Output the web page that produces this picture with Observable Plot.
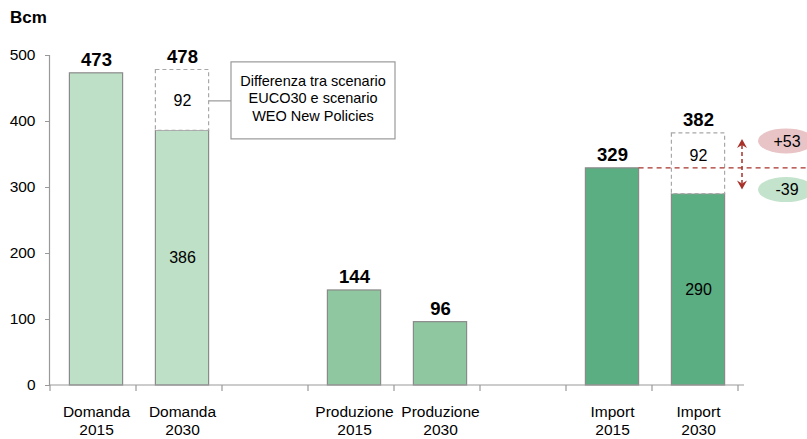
<!DOCTYPE html>
<html><head><meta charset="utf-8">
<script src="https://cdn.jsdelivr.net/npm/d3@7"></script>
<script src="https://cdn.jsdelivr.net/npm/@observablehq/plot@0.6"></script>
<style>
body{margin:0;background:#fff;font-family:"Liberation Sans",Arial,sans-serif;}
#wrap{position:relative;width:807px;height:439px;overflow:hidden}
#unit{position:absolute;left:10px;top:8px;font-weight:bold;font-size:17px;color:#000}
#wrap svg{position:absolute;left:0;top:0}
</style></head>
<body><div id="wrap"><div id="unit">Bcm</div></div>
<script>
// ---- data ----
const categories = ["Domanda 2015","Domanda 2030","gap1","Produzione 2015","Produzione 2030","gap2","Import 2015","Import 2030"];
const tickLabels = ["Domanda\n2015","Domanda\n2030","","Produzione\n2015","Produzione\n2030","","Import\n2015","Import\n2030"];
const barCats = ["Domanda 2015","Domanda 2030","Produzione 2015","Produzione 2030","Import 2015","Import 2030"];
const barValues = [473,386,144,96,329,290];
const barColors = ["#bde0c6","#bde0c6","#8fc8a0","#8fc8a0","#5aae82","#5aae82"];
const totalValues = [473,478,144,96,329,382];
const gapCats = ["Domanda 2030","Import 2030"];
const gapValues = [92,92];
const innerLabelCats = ["Domanda 2030","Import 2030"];
const innerLabelValues = [386,290];
const yTicks = [0,100,200,300,400,500];
const refValue = 329;
const deltaLabels = ["+53","-39"];
const annotationText = ["Differenza tra scenario","EUCO30 e scenario","WEO New Policies"];

// ---- tables ----
const bars = barCats.map((c,i)=>({cat:c, value:barValues[i], color:barColors[i], total:totalValues[i]}));
const gaps = gapCats.map((c,i)=>{const base = barValues[barCats.indexOf(c)]; return {cat:c, lo:base, hi:base+gapValues[i], v:gapValues[i]};});
const inner = innerLabelCats.map((c,i)=>({cat:c, v:innerLabelValues[i]}));

const font = '"Liberation Sans",Arial,sans-serif';
const inset = 16.4;

const chart = Plot.plot({
  width:807, height:439,
  marginLeft:50, marginRight:63, marginTop:55, marginBottom:54,
  style:{fontFamily:font, fontSize:"16px", color:"#000", background:"transparent", overflow:"visible"},
  x:{domain:categories, padding:0, axis:null},
  y:{domain:[0,500], axis:null},
  color:{type:"identity"},
  marks:[
    Plot.barY(bars,{x:"cat", y:"value", fill:"color", stroke:"#8a8a8a", strokeWidth:1.2, insetLeft:inset, insetRight:inset}),
    Plot.barY(gaps,{x:"cat", y1:"lo", y2:"hi", fill:"white", stroke:"#a8a8a8", strokeWidth:1.2, strokeDasharray:"4,3", insetLeft:inset, insetRight:inset}),
    Plot.text(gaps,{x:"cat", y:d=>(d.lo+d.hi)/2 + (d.cat==="Import 2030" ? 12 : 0), text:d=>String(d.v), fontSize:16}),
    Plot.text(inner,{x:"cat", y:d=>d.v/2, text:d=>String(d.v), fontSize:16}),
    Plot.text(bars,{x:"cat", y:"total", text:d=>String(d.total), dy:-13, fontSize:18.5, fontWeight:"bold"}),
    Plot.axisY({ticks:yTicks, tickSize:5, tickPadding:10, fontSize:15.5, label:null, stroke:"#999"}),
    Plot.axisX({tickSize:0, tickPadding:19, fontSize:15.5, lineHeight:1.16, label:null,
      tickFormat:d=>tickLabels[categories.indexOf(d)]})
  ]
});

document.getElementById("wrap").appendChild(chart);

// ---- annotations drawn from the plot's own scales ----
const xs = chart.scale("x"), ys = chart.scale("y");
const bw = xs.bandwidth;
const x0 = xs.range[0], x1 = xs.range[1];
const cx = c => xs.apply(c) + bw/2;
const y = v => ys.apply(v);
const svg = d3.select(chart);
const g = svg.append("g");

// axis lines
g.append("line").attr("x1",x0-0.5).attr("x2",x0-0.5).attr("y1",y(0)).attr("y2",y(500)).attr("stroke","#999").attr("stroke-width",1.2);
g.append("line").attr("x1",x0-0.5).attr("x2",x1).attr("y1",y(0)).attr("y2",y(0)).attr("stroke","#999").attr("stroke-width",1.2);
for (let i=0;i<=categories.length;i++){
  const xx = x0 + i*bw;
  g.append("line").attr("x1",xx).attr("x2",xx).attr("y1",y(0)).attr("y2",y(0)+6).attr("stroke","#999").attr("stroke-width",1.2);
}

// annotation box + connector
const gapD = gaps[0];
const boxRight = cx(gapD.cat) + bw/2 - inset;
const midY = y((gapD.lo+gapD.hi)/2);
const boxCx = xs.apply("Produzione 2015") + 2;
const boxW = 164, boxH = 77;
const boxTop = midY - 38;
g.append("line").attr("x1",boxRight).attr("x2",boxCx-boxW/2).attr("y1",midY+1).attr("y2",midY+1).attr("stroke","#999").attr("stroke-width",1.2);
g.append("rect").attr("x",boxCx-boxW/2).attr("y",boxTop).attr("width",boxW).attr("height",boxH)
  .attr("fill","white").attr("stroke","#999").attr("stroke-width",1.2);
annotationText.forEach((t,i)=>{
  g.append("text").attr("x",boxCx).attr("y",boxTop+24+i*17.5).attr("text-anchor","middle")
   .attr("font-family",font).attr("font-size",14.5).attr("fill","#000").text(t);
});

// reference dashed line at Import 2015 level
const red = "#a8322a";
const impRight = cx("Import 2015") + bw/2 - inset;
g.append("line").attr("x1",impRight).attr("x2",807).attr("y1",y(refValue)).attr("y2",y(refValue))
  .attr("stroke",red).attr("stroke-width",1.3).attr("stroke-dasharray","5,4");

// double arrow
const ax = x1 - 2;
const topTip = y(gaps[1].hi) + 6, botTip = y(gaps[1].lo) - 4;
g.append("line").attr("x1",ax).attr("x2",ax).attr("y1",topTip+6).attr("y2",botTip-6)
  .attr("stroke",red).attr("stroke-width",1.5).attr("stroke-dasharray","4,3");
g.append("path").attr("d",`M${ax},${topTip} L${ax-5},${topTip+9} L${ax},${topTip+6} L${ax+5},${topTip+9} Z`).attr("fill",red);
g.append("path").attr("d",`M${ax},${botTip} L${ax-5},${botTip-9} L${ax},${botTip-6} L${ax+5},${botTip-9} Z`).attr("fill",red);

// delta ellipses
const ells = [
  {t:deltaLabels[0], cy:topTip+2, fill:"#e8c4c6"},
  {t:deltaLabels[1], cy:botTip,   fill:"#c4e3cc"}
];
ells.forEach(e=>{
  g.append("ellipse").attr("cx",786).attr("cy",e.cy).attr("rx",28).attr("ry",12.5).attr("fill",e.fill);
  g.append("text").attr("x",787).attr("y",e.cy).attr("dy","0.36em").attr("text-anchor","middle")
   .attr("font-family",font).attr("font-size",16).attr("fill","#000").text(e.t);
});
</script></body></html>
